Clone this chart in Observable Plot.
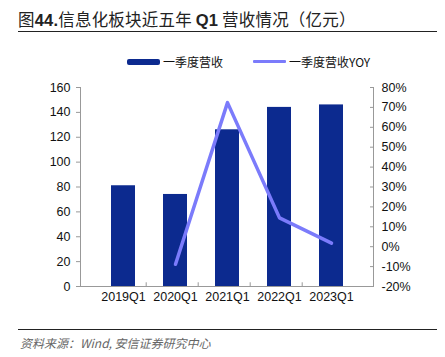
<!DOCTYPE html>
<html><head><meta charset="utf-8">
<script src="https://cdn.jsdelivr.net/npm/d3@7"></script>
<script src="https://cdn.jsdelivr.net/npm/@observablehq/plot@0.6"></script>
<style>
body{margin:0;background:#fff;width:445px;height:357px;overflow:hidden;font-family:"Liberation Sans","Noto Sans CJK SC",sans-serif;}
#title{position:absolute;left:18px;top:7px;font-size:16.5px;color:#222;font-family:"Noto Sans CJK SC",sans-serif;letter-spacing:0.2px;}
#title b{font-family:"Liberation Sans",sans-serif;font-weight:bold;}
#tline{position:absolute;left:18px;top:31px;width:419px;height:0;border-top:1.5px solid #222;}
#legend{position:absolute;top:53px;left:127px;font-size:12px;color:#111;display:flex;align-items:center;font-family:"Noto Sans CJK SC",sans-serif;}
.sw1{width:33px;height:6px;background:#0c2a8f;border-radius:2px;margin-right:3px;}
.sw2{width:33px;height:3px;background:#7b7bfb;border-radius:1px;margin-right:3px;margin-left:30px;}
#chart{position:absolute;left:0;top:75px;}
#fline{position:absolute;left:18px;top:329px;width:419px;border-top:1.3px solid #222;}
#foot{position:absolute;left:20px;top:334px;font-size:12px;font-style:italic;color:#666;font-family:"Noto Sans CJK SC",sans-serif;}
</style></head>
<body>
<div id="title">图<b>44.</b>信息化板块近五年 <b>Q1</b> 营收情况（亿元）</div>
<div id="tline"></div>
<div id="legend"><div class="sw1"></div><span>一季度营收</span><div class="sw2"></div><span>一季度营收YOY</span></div>
<div id="chart"></div>
<div id="fline"></div>
<div id="foot">资料来源：Wind, 安信证券研究中心</div>
<script>
const quarters = ["2019Q1","2020Q1","2021Q1","2022Q1","2023Q1"];
const revenue = [81, 74, 126, 144, 146];
const yoy = [null, -8.8, 72.4, 14.5, 1.8];
const leftTicks = [0,20,40,60,80,100,120,140,160];
const rightTicks = [-20,-10,0,10,20,30,40,50,60,70,80];

// map right-axis (%) domain [-20,80] onto left domain [0,160]
const toLeft = p => (p + 20) * 1.6;
const fromLeft = v => Math.round(v / 1.6 - 20);

const bars = quarters.map((q,i)=>({q, v: revenue[i]}));
const line = quarters.map((q,i)=>({q, p: yoy[i]})).filter(d=>d.p!=null);

const W = 445, mL = 80, mR = 72;
const step = (W - mL - mR) / quarters.length;

const chart = Plot.plot({
  width: W, height: 231,
  marginLeft: mL, marginRight: mR, marginTop: 12, marginBottom: 20,
  style: {fontFamily: "Liberation Sans, Arial, sans-serif", fontSize: "12px", color: "#111", background: "transparent"},
  x: {domain: quarters, padding: 0.54, label: null},
  y: {domain: [0,160], label: null},
  marks: [
    Plot.barY(bars, {x: "q", y: "v", fill: "#0c2a8f"}),
    Plot.ruleY([0], {stroke: "#999", strokeWidth: 1}),
    Plot.frame({anchor: "left", stroke: "#999"}),
    Plot.frame({anchor: "right", stroke: "#999"}),
    Plot.ruleX(quarters.slice(1), {x: d=>d, y1: 0, y2: 3, dx: -step/2, stroke: "#999"}),
    Plot.line(line, {x: "q", y: d => toLeft(d.p), stroke: "#7b7bfb", strokeWidth: 3.5, strokeLinejoin: "round", strokeLinecap:"round"}),
    Plot.axisY({ticks: leftTicks, tickSize: 4, tickPadding: 6, stroke: "#999", fill: "#111", fontSize: 12.5}),
    Plot.axisY({anchor: "right", ticks: rightTicks.map(toLeft), tickFormat: v => fromLeft(v) + "%", tickSize: -4, tickPadding: 12, stroke: "#999", fill: "#111", fontSize: 12.5}),
    Plot.axisX({tickSize: 0, tickPadding: 6, fill: "#111", fontSize: 12.5})
  ]
});
document.getElementById("chart").appendChild(chart);
</script>
</body></html>
